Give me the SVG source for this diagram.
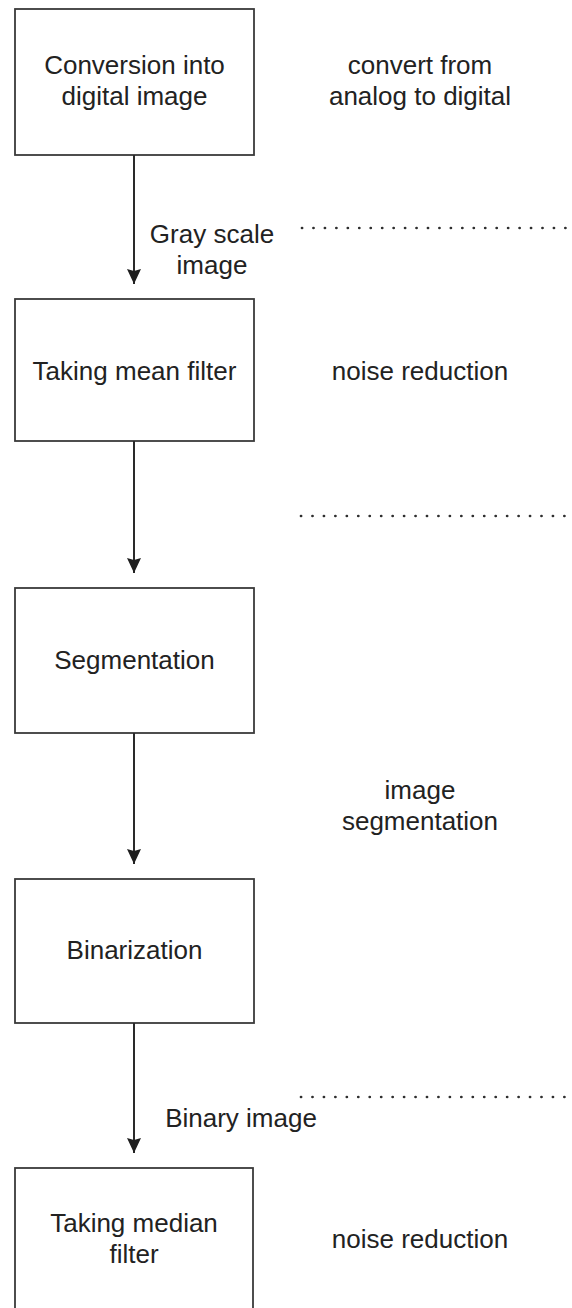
<svg xmlns="http://www.w3.org/2000/svg" width="572" height="1308" viewBox="0 0 572 1308">
  <defs>
    <marker id="arrow" markerWidth="14" markerHeight="15" refX="7" refY="15" orient="0" markerUnits="userSpaceOnUse">
      <path d="M0,0 L7,2 L14,0 L7,15 Z" fill="#1e1e1e"/>
    </marker>
    <style>
      .box { fill: #ffffff; stroke: #3a3a3a; stroke-width: 1.8; }
      .label { font-family: "Liberation Sans", Arial, sans-serif; font-size: 26px; fill: #222222; text-anchor: middle; }
      .flow { stroke: #2a2a2a; stroke-width: 2; fill: none; }
      .dots { stroke: #2e2e2e; stroke-width: 2.7; stroke-linecap: round; stroke-dasharray: 0.1 11.35; fill: none; }
    </style>
  </defs>

  <rect width="572" height="1308" fill="#ffffff"/>

  <!-- process steps -->
  <g id="step-conversion">
    <rect class="box" x="15" y="9" width="239" height="146"/>
    <text class="label" x="134.5" y="74">Conversion into</text>
    <text class="label" x="134.5" y="105">digital image</text>
  </g>

  <g id="step-mean-filter">
    <rect class="box" x="15" y="299" width="239" height="142"/>
    <text class="label" x="134.5" y="380">Taking mean filter</text>
  </g>

  <g id="step-segmentation">
    <rect class="box" x="15" y="588" width="239" height="145"/>
    <text class="label" x="134.5" y="669">Segmentation</text>
  </g>

  <g id="step-binarization">
    <rect class="box" x="15" y="879" width="239" height="144"/>
    <text class="label" x="134.5" y="959">Binarization</text>
  </g>

  <g id="step-median-filter">
    <rect class="box" x="15" y="1168" width="238" height="150"/>
    <text class="label" x="134" y="1232">Taking median</text>
    <text class="label" x="134" y="1263">filter</text>
  </g>

  <!-- descriptions on the right -->
  <g id="note-convert">
    <text class="label" x="420" y="74">convert from</text>
    <text class="label" x="420" y="105">analog to digital</text>
  </g>
  <g id="note-noise-1">
    <text class="label" x="420" y="380">noise reduction</text>
  </g>
  <g id="note-segmentation">
    <text class="label" x="420" y="799">image</text>
    <text class="label" x="420" y="830">segmentation</text>
  </g>
  <g id="note-noise-2">
    <text class="label" x="420" y="1248">noise reduction</text>
  </g>

  <!-- stage separators -->
  <g id="separators">
    <line class="dots" x1="302" y1="228" x2="567" y2="228"/>
    <line class="dots" x1="301" y1="516" x2="567" y2="516"/>
    <line class="dots" x1="301" y1="1097" x2="567" y2="1097"/>
  </g>

  <!-- connectors -->
  <g id="connectors">
    <line class="flow" x1="134" y1="155" x2="134" y2="284" marker-end="url(#arrow)"/>
    <line class="flow" x1="134" y1="441" x2="134" y2="573" marker-end="url(#arrow)"/>
    <line class="flow" x1="134" y1="733" x2="134" y2="864" marker-end="url(#arrow)"/>
    <line class="flow" x1="134" y1="1023" x2="134" y2="1153" marker-end="url(#arrow)"/>
    <text class="label" x="212" y="243">Gray scale</text>
    <text class="label" x="212" y="274">image</text>
    <text class="label" x="241" y="1127">Binary image</text>
  </g>
</svg>
